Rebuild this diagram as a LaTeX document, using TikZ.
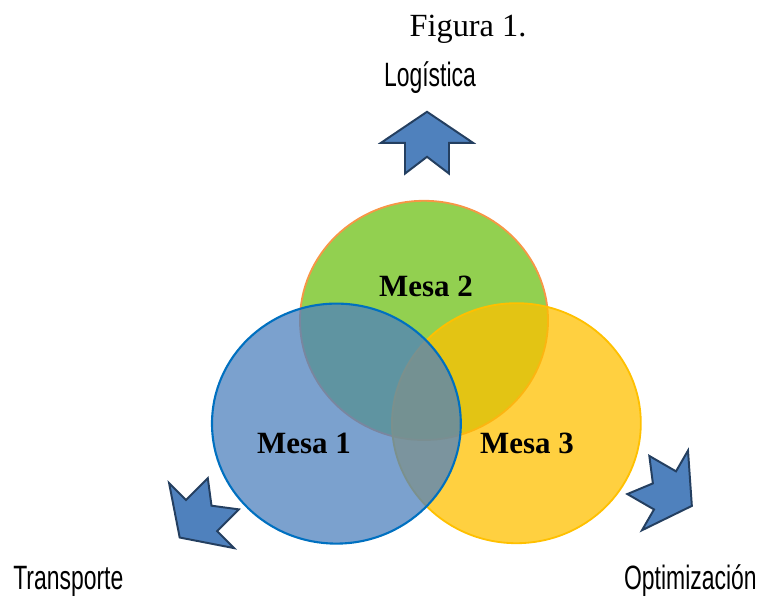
\documentclass[tikz,border=0pt]{standalone}
\usepackage{fontspec}
\setmainfont{Liberation Serif}
\newfontfamily\agency[FakeStretch=0.68]{Liberation Sans}
\definecolor{mesaverde}{HTML}{92D050}
\definecolor{mesanaranja}{HTML}{F79646}
\definecolor{mesaazul}{HTML}{4F81BD}
\definecolor{mesaborde}{HTML}{0070C0}
\definecolor{mesaamarillo}{HTML}{FFC000}
\definecolor{flecha}{HTML}{4F81BD}
\definecolor{flechaborde}{HTML}{243F60}

\begin{document}
\begin{tikzpicture}[
  mesa/.style={font=\bfseries\fontsize{22}{26}\selectfont, anchor=base},
  rotulo/.style={font=\agency\fontsize{24}{28}\selectfont, inner sep=0pt},
  bloque/.style={fill=flecha, draw=flechaborde, line width=1.4pt, line join=miter}
]
\useasboundingbox (0,0) rectangle (19,14.95);

% circulos
\draw[mesanaranja, line width=1.3pt, fill=mesaverde] (10.6,6.94) ellipse (3.1 and 2.99);
\draw[mesaamarillo, line width=1.3pt, fill=mesaamarillo, fill opacity=0.75] (12.91,4.37) ellipse (3.11 and 3.0);
\draw[mesaborde, line width=1.5pt, fill=mesaazul, fill opacity=0.75] (8.41,4.36) ellipse (3.11 and 3.0);

\node[mesa] (m1) at (7.6,3.625) {Mesa 1};
\node[mesa] (m2) at (10.65,7.525) {Mesa 2};
\node[mesa] (m3) at (13.175,3.625) {Mesa 3};

% flechas
\draw[bloque, shift={(10.675,11.38)}, rotate=90] (0.775,0) -- (0,1.15) -- (0,0.55) -- (-0.77,0.55) -- (-0.35,0) -- (-0.77,-0.55) -- (0,-0.55) -- (0,-1.15) -- cycle;
\draw[bloque, shift={(5.04,2.06)}, rotate=225] (0.775,0) -- (0,1.15) -- (0,0.55) -- (-0.77,0.55) -- (-0.35,0) -- (-0.77,-0.55) -- (0,-0.55) -- (0,-1.15) -- cycle;
\draw[bloque, shift={(16.625,2.69)}, rotate=-30] (0.775,0) -- (0,1.15) -- (0,0.55) -- (-0.77,0.55) -- (-0.35,0) -- (-0.77,-0.55) -- (0,-0.55) -- (0,-1.15) -- cycle;

% textos
\node[font=\fontsize{23}{27}\selectfont, anchor=base] (fig) at (11.7,14.025) {Figura 1.};
\node[rotulo, anchor=base] (log) at (10.75,12.775) {Logística};
\node[rotulo, anchor=base west] (tra) at (0.325,0.22) {Transporte};
\node[rotulo, anchor=base east] (opt) at (18.925,0.22) {Optimización};

\end{tikzpicture}
\end{document}
